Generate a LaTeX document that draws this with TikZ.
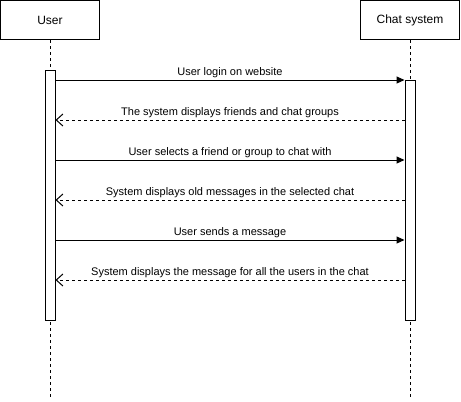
\documentclass[tikz,border=0pt]{standalone}
\usepackage{fontspec}
\setmainfont{Liberation Sans}
\usetikzlibrary{arrows.meta}

\begin{document}
\begin{tikzpicture}[
  x=0.75pt, y=-0.75pt,
  actor/.style={draw=black, line width=0.75pt, fill=white,
                minimum width=74.25pt, minimum height=29.25pt,
                font=\fontsize{9}{11}\selectfont},
  activation/.style={draw=black, line width=0.75pt, fill=white,
                     minimum width=7.5pt, inner sep=0pt, anchor=north},
  lifeline/.style={line width=0.75pt, dash pattern=on 2.25pt off 2.25pt},
  call/.style={line width=0.75pt, -{Triangle[length=6pt,width=5.25pt]}},
  reply/.style={line width=0.75pt, dash pattern=on 2.25pt off 2.25pt,
                -{Straight Barb[length=5pt,width=9pt]}},
  msg/.style={font=\fontsize{8.25}{10}\selectfont, above, inner sep=1.5pt}
]
\useasboundingbox (0,0) rectangle (461,401);

% Sudionici
\node[actor] (user) at (50,20) {User};
\node[actor] (chat) at (410,20) {Chat system};

\coordinate (userend) at (50,398);
\coordinate (chatend) at (410,398);
\draw[lifeline] (user.south) -- (userend);
\draw[lifeline] (chat.south) -- (chatend);

% Aktivacije
\node[activation, minimum height=187.5pt] (ubar) at (50,70) {};
\node[activation, minimum height=180pt] (cbar) at (410,80) {};

% Poruke
\coordinate (r1) at (230,80);
\coordinate (r2) at (230,120);
\coordinate (r3) at (230,160);
\coordinate (r4) at (230,200);
\coordinate (r5) at (230,240);
\coordinate (r6) at (230,280);

\draw[call] (ubar.east |- r1) -- node[msg] {User login on website} (cbar.west |- r1);
\draw[reply] (cbar.west |- r2) -- node[msg] {The system displays friends and chat groups} (ubar.east |- r2);
\draw[call] (ubar.east |- r3) -- node[msg] {User selects a friend or group to chat with} (cbar.west |- r3);
\draw[reply] (cbar.west |- r4) -- node[msg] {System displays old messages in the selected chat} (ubar.east |- r4);
\draw[call] (ubar.east |- r5) -- node[msg] {User sends a message} (cbar.west |- r5);
\draw[reply] (cbar.west |- r6) -- node[msg] {System displays the message for all the users in the chat} (ubar.east |- r6);

\end{tikzpicture}
\end{document}
